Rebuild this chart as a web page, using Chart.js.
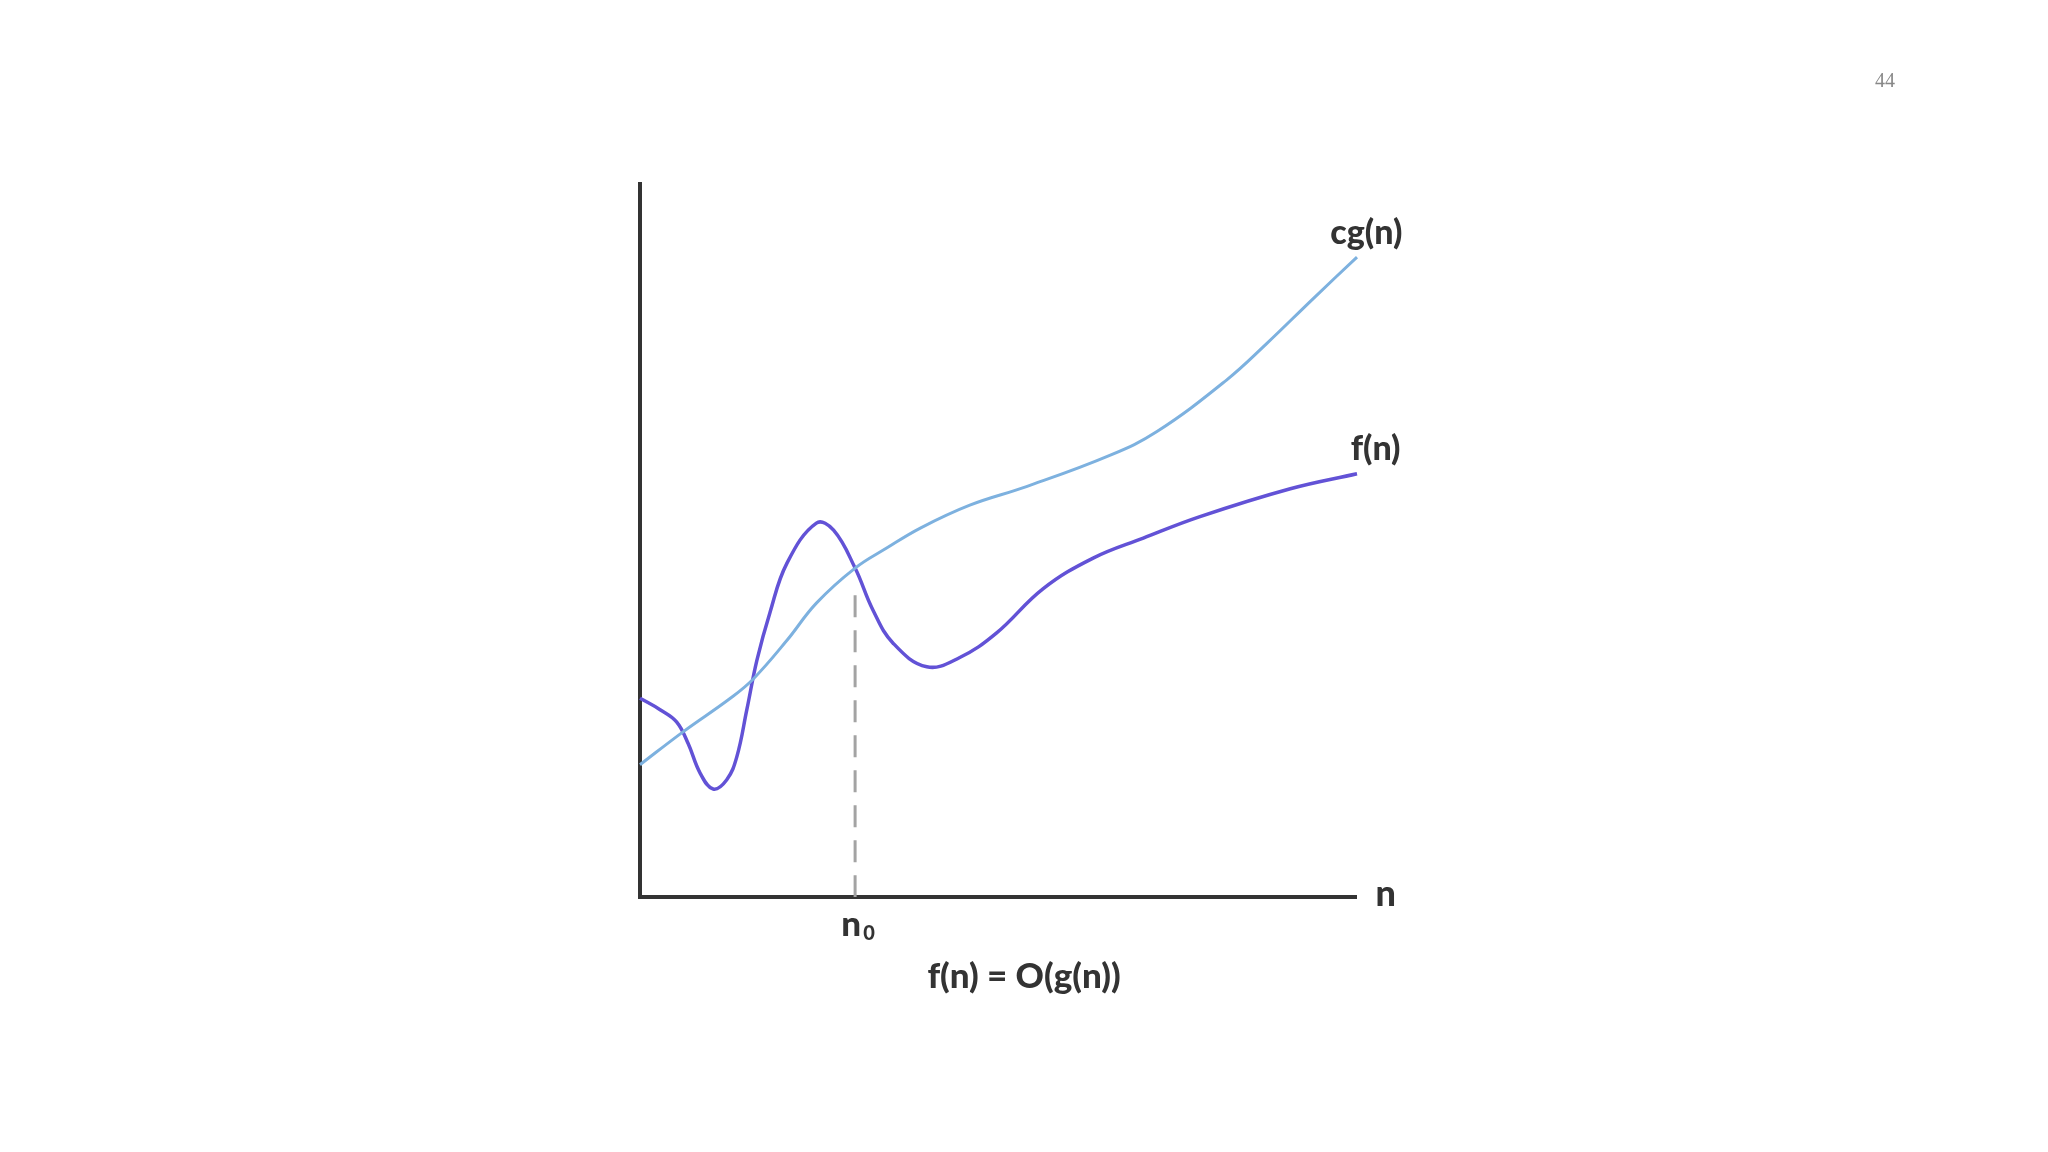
<!DOCTYPE html>
<html>
<head>
<meta charset="utf-8">
<script src="https://cdn.jsdelivr.net/npm/chart.js@4/dist/chart.umd.min.js"></script>
<style>
  html, body { margin: 0; padding: 0; background: #fff; }
  #wrap { width: 2048px; height: 1152px; position: relative; }
</style>
</head>
<body>
<div id="wrap"><canvas id="chart" width="2048" height="1152"></canvas></div>
<script>
// values, x and y both on a 0..100 scale
const cgX = [0, 6.0, 12.6, 15.8, 20.5, 24.6, 30.0, 34.4, 39.1, 46.0, 53.9, 65.6, 72.1, 81.8, 87.4, 93.9, 100];
const cgY = [18.5, 23.1, 27.8, 30.5, 35.9, 41.1, 46.0, 48.8, 51.6, 54.8, 57.4, 61.8, 65.1, 72.3, 77.4, 83.7, 89.5];

const fX = [0, 2.8, 5.1, 6.7, 8.4, 10.2, 12.1, 13.5, 14.9, 16.3, 18.1, 20.5, 24.6, 27.0, 30.0, 32.5, 35.3, 40.0, 44.6, 49.7, 56.2, 63.2, 70.2, 78.1, 90.7, 100];
const fY = [27.8, 26.2, 24.5, 21.5, 17.3, 15.1, 16.4, 19.6, 26.2, 33.1, 39.7, 46.7, 52.3, 51.3, 46.0, 40.1, 35.5, 32.2, 33.5, 36.9, 43.1, 47.4, 50.2, 53.2, 57.1, 59.2];

// where the dashed n0 marker sits
const n0X = 30.0;
const n0Top = 42.2;

const pts = (xs, ys) => xs.map((x, i) => ({ x: x, y: ys[i] }));

const labelPlugin = {
  id: "labels",
  beforeDatasetsDraw(chart) {
    const ctx = chart.ctx;
    const xs = chart.scales.x;
    const ys = chart.scales.y;
    const left = xs.getPixelForValue(0);
    const right = xs.getPixelForValue(100);
    const top = ys.getPixelForValue(100);
    const bottom = ys.getPixelForValue(0);
    ctx.save();
    ctx.strokeStyle = "#333";
    ctx.lineWidth = 4;
    ctx.beginPath();
    ctx.moveTo(left, top);
    ctx.lineTo(left, bottom + 2);
    ctx.moveTo(left - 2, bottom);
    ctx.lineTo(right, bottom);
    ctx.stroke();
    ctx.restore();
  },
  afterDraw(chart) {
    const ctx = chart.ctx;
    const xs = chart.scales.x;
    const ys = chart.scales.y;
    ctx.save();
    ctx.fillStyle = "#333";
    ctx.textBaseline = "middle";
    ctx.textAlign = "center";
    ctx.font = "900 34px Lato";
    ctx.fillText("cg(n)", xs.getPixelForValue(101.3), ys.getPixelForValue(92.8));
    ctx.fillText("f(n)", xs.getPixelForValue(102.6), ys.getPixelForValue(62.6));
    ctx.font = "900 36px Lato";
    ctx.fillText("n", xs.getPixelForValue(104), ys.getPixelForValue(0) - 3);

    // n with subscript 0
    ctx.textBaseline = "alphabetic";
    ctx.font = "900 35px Lato";
    const nx = xs.getPixelForValue(n0X);
    ctx.fillText("n", nx - 4, 936);
    ctx.font = "900 20px Lato";
    ctx.fillText("0", nx + 14, 940);

    ctx.textBaseline = "middle";
    ctx.font = "900 35px Lato";
    ctx.fillText("f(n) = O(g(n))", 1024, 977);

    ctx.fillStyle = "#888";
    ctx.font = "20px 'Liberation Serif'";
    ctx.fillText("44", 1885, 82);
    ctx.restore();
  }
};

new Chart(document.getElementById("chart"), {
  type: "line",
  data: {
    datasets: [
      {
        label: "n0",
        data: [{ x: n0X, y: n0Top }, { x: n0X, y: 0 }],
        borderColor: "#a3a3a3",
        borderWidth: 3,
        borderDash: [22, 13],
        pointRadius: 0,
        tension: 0,
      },
      {
        label: "cg(n)",
        data: pts(cgX, cgY),
        borderColor: "#7db1df",
        borderWidth: 3,
        pointRadius: 0,
        tension: 0.4,
        clip: false,
      },
      {
        label: "f(n)",
        data: pts(fX, fY),
        borderColor: "#6252d6",
        borderWidth: 3.5,
        pointRadius: 0,
        tension: 0.4,
        clip: false,
      },
    ],
  },
  options: {
    responsive: false,
    animation: false,
    events: [],
    layout: { padding: { left: 640, right: 691, top: 182, bottom: 255 } },
    plugins: { legend: { display: false }, tooltip: { enabled: false } },
    scales: {
      x: { type: "linear", min: 0, max: 100, display: false },
      y: { min: 0, max: 100, display: false },
    },
  },
  plugins: [labelPlugin],
});
</script>
</body>
</html>
